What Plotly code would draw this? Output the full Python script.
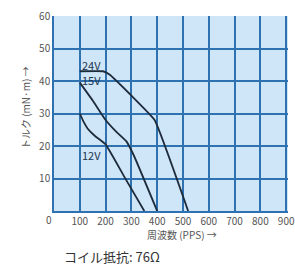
import plotly.graph_objects as go

# Data
freq_24v = [100, 190, 215, 300, 390, 520]
torque_24v = [43, 43, 42, 35.5, 28, 0]
freq_15v = [100, 150, 200, 240, 280, 310, 400]
torque_15v = [39.5, 34, 28, 24.5, 21.5, 17, 0]
freq_12v = [100, 115, 130, 160, 200, 275, 350]
torque_12v = [30, 27.4, 25.4, 23, 20.5, 10.2, 0]

x_ticks = [100, 200, 300, 400, 500, 600, 700, 800, 900]
y_ticks = [10, 20, 30, 40, 50, 60]

labels = [("24V", 100, 45.0), ("15V", 100, 40.4), ("12V", 100, 17.3)]

font_cjk = "Noto Sans CJK JP, Noto Sans, sans-serif"
line_color = "#1d2b3b"
grid_color = "#2f72b2"

fig = go.Figure()
for xs, ys in [(freq_24v, torque_24v), (freq_15v, torque_15v), (freq_12v, torque_12v)]:
    fig.add_trace(go.Scatter(x=xs, y=ys, mode="lines",
                             line=dict(color=line_color, width=1.8, shape="spline", smoothing=0.3),
                             showlegend=False, hoverinfo="skip"))

for text, x, y in labels:
    fig.add_annotation(x=x, y=y, text=text, showarrow=False, xanchor="left",
                       font=dict(family=font_cjk, size=11, color="#1d3550"))

fig.add_annotation(xref="paper", yref="paper", x=-0.021, y=-0.046, text="0", showarrow=False,
                   xanchor="center", yanchor="middle", font=dict(family=font_cjk, size=10, color="#555"))
fig.add_annotation(xref="paper", yref="paper", x=0.548, y=-0.123, text="周波数 (PPS) →", showarrow=False,
                   xanchor="center", yanchor="middle", font=dict(family=font_cjk, size=10, color="#555"))
fig.add_annotation(xref="paper", yref="paper", x=-0.124, y=0.533, text="トルク (mN·m) →", showarrow=False,
                   textangle=-90, xanchor="center", yanchor="middle",
                   font=dict(family=font_cjk, size=10, color="#555"))
fig.add_annotation(xref="paper", yref="paper", x=0.036, y=-0.231, text="コイル抵抗: 76Ω", showarrow=False,
                   xanchor="left", yanchor="middle", font=dict(family=font_cjk, size=13, color="#333"))

fig.update_xaxes(range=[0, 907], tickvals=x_ticks, ticktext=[str(v) for v in x_ticks],
                 showgrid=True, gridcolor=grid_color, gridwidth=1.6, zeroline=False,
                 showline=True, linecolor=grid_color, linewidth=1.6, ticklabeloverflow="allow",
                 tickfont=dict(family=font_cjk, size=10, color="#555"), ticks="", fixedrange=True)
fig.update_yaxes(range=[0, 60], tickvals=y_ticks, ticktext=[str(v) for v in y_ticks],
                 showgrid=True, gridcolor=grid_color, gridwidth=1.6, zeroline=False,
                 showline=True, linecolor=grid_color, linewidth=1.6,
                 tickfont=dict(family=font_cjk, size=10, color="#555"), ticks="", fixedrange=True)

fig.update_layout(width=295, height=265, margin=dict(l=54, r=0, t=16, b=54),
                  paper_bgcolor="white", plot_bgcolor="#cfe6f8")
fig.write_html("out.html", config={"displayModeBar": False},
               post_script="document.body.style.margin='0';document.body.style.overflow='hidden';")
